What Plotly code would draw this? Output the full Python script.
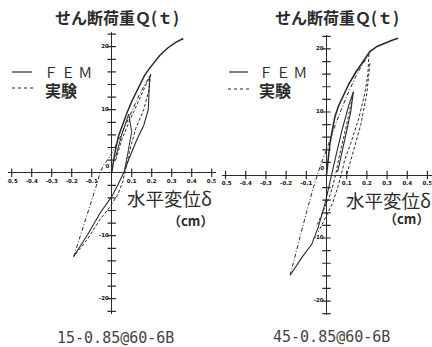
import plotly.graph_objects as go

# ---------------- data ----------------
x_ticks = [-0.5, -0.4, -0.3, -0.2, -0.1, 0.1, 0.2, 0.3, 0.4, 0.5]
x_tick_labels = ["-0.5", "-0.4", "-0.3", "-0.2", "-0.1", "0.1", "0.2", "0.3", "0.4", "0.5"]
y_ticks = [-22, -20, -18, -16, -14, -12, -10, -8, -6, -4, -2, 2, 4, 6, 8, 10, 12, 14, 16, 18, 20, 22]
y_label_vals = [20, 10, -10, -20]
y_label_text = ["20", "10", "-10", "-20"]

# left specimen 15-0.85@60-6B
L_skel_x = [0, 0.015, 0.033, 0.055, 0.075, 0.10, 0.125, 0.142, 0.165, 0.19, 0.21, 0.24, 0.28, 0.32, 0.358]
L_skel_y = [0, 3.0, 5.7, 7.8, 9.4, 11.3, 13.0, 14.2, 15.5, 16.6, 17.4, 18.6, 19.8, 20.7, 21.3]
L_loop_x = [0.19, 0.188, 0.183, 0.16, 0.125, 0.09, 0.06, 0.03, 0.0, -0.058, -0.12, -0.19]
L_loop_y = [15.3, 12.5, 10.0, 7.5, 5.2, 2.5, 0.0, -2.0, -3.8, -6.4, -9.8, -13.3]
L_inner_x = [0.02, 0.05, 0.085, 0.10, 0.08, 0.065]
L_inner_y = [2.5, 6.0, 9.3, 6.5, 3.0, 0.5]
L_expa_x = [-0.19, -0.16, -0.117, -0.08, -0.058, -0.04, -0.01, 0.04, 0.09, 0.14, 0.195]
L_expa_y = [-13.3, -10.4, -5.9, -2.4, 0.0, 1.2, 2.5, 5.5, 9.0, 12.5, 15.6]
L_expb_x = [0.195, 0.185, 0.16, 0.12, 0.09, 0.072, 0.055, 0.03, -0.01, -0.06, -0.12, -0.19]
L_expb_y = [15.6, 13.0, 10.0, 7.0, 3.5, 0.8, -1.5, -3.5, -5.5, -7.5, -10.5, -13.3]
L_expc_x = [0.02, 0.05, 0.09, 0.13, 0.17, 0.195]
L_expc_y = [2.0, 5.2, 8.3, 11.0, 13.7, 15.6]

# right specimen 45-0.85@60-6B
R_skel_x = [0, 0.005, 0.017, 0.03, 0.042, 0.06, 0.083, 0.11, 0.141, 0.175, 0.215, 0.25, 0.29, 0.325, 0.355]
R_skel_y = [0, 1.5, 5.0, 7.3, 9.3, 11.0, 12.7, 14.4, 16.1, 17.8, 19.6, 20.4, 21.0, 21.4, 21.7]
R_loop_x = [-0.18, -0.12, -0.073, -0.04, -0.007, 0.026, 0.05, 0.08, 0.11, 0.133, 0.12, 0.10, 0.075, 0.055]
R_loop_y = [-15.9, -13.0, -11.0, -8.2, -4.5, 0.3, 3.5, 7.5, 11.0, 13.2, 10.0, 7.0, 3.5, 0.5]
R_expa_x = [-0.18, -0.14, -0.10, -0.065, -0.049, -0.03, 0.0, 0.05, 0.10, 0.15, 0.21]
R_expa_y = [-15.9, -10.8, -6.0, -2.0, -0.3, 1.5, 4.0, 8.5, 12.5, 16.0, 19.2]
R_expb_x = [0.21, 0.205, 0.19, 0.16, 0.12, 0.09, 0.075, 0.06, 0.03, 0.0, -0.04]
R_expb_y = [19.2, 16.0, 13.0, 9.0, 5.0, 2.4, 0.3, -1.5, -4.5, -6.4, -9.0]
R_expc_x = [0.215, 0.20, 0.17, 0.13, 0.10]
R_expc_y = [17.7, 13.0, 8.0, 3.5, 0.0]
R_expd_x = [0.133, 0.10, 0.06, 0.045, 0.02, -0.05]
R_expd_y = [13.2, 8.0, 2.5, 0.0, -3.0, -8.2]

INK = "#2b2b2b"
fig = go.Figure()


def add_panel(xa, ya, curves):
    for cx, cy, width, dash in curves:
        fig.add_trace(go.Scatter(x=cx, y=cy, mode="lines", xaxis=xa, yaxis=ya,
                                 line=dict(color=INK, width=width, dash=dash),
                                 showlegend=False, hoverinfo="skip"))
    # tick marks
    fig.add_trace(go.Scatter(x=x_ticks, y=[0] * len(x_ticks), mode="markers", xaxis=xa, yaxis=ya,
                             marker=dict(symbol="line-ns-open", size=6, color=INK,
                                         line=dict(color=INK, width=1.2)),
                             showlegend=False, hoverinfo="skip"))
    fig.add_trace(go.Scatter(x=[0] * len(y_ticks), y=y_ticks, mode="markers", xaxis=xa, yaxis=ya,
                             marker=dict(symbol="line-ew-open", size=6, color=INK,
                                         line=dict(color=INK, width=1.2)),
                             showlegend=False, hoverinfo="skip"))
    fig.add_trace(go.Scatter(x=x_ticks, y=[-1.35] * len(x_ticks), mode="text", xaxis=xa, yaxis=ya,
                             text=x_tick_labels, textposition="middle center",
                             textfont=dict(family="DejaVu Sans", size=5.5, color="#111", weight="bold"),
                             showlegend=False, hoverinfo="skip"))
    fig.add_trace(go.Scatter(x=[-0.014] * len(y_label_vals), y=y_label_vals, mode="text", xaxis=xa, yaxis=ya,
                             text=y_label_text, textposition="middle left",
                             textfont=dict(family="DejaVu Sans", size=5.5, color="#111", weight="bold"),
                             showlegend=False, hoverinfo="skip"))
    fig.add_trace(go.Scatter(x=[-0.012], y=[1.0], mode="text", xaxis=xa, yaxis=ya,
                             text=["0"], textposition="middle left",
                             textfont=dict(family="DejaVu Sans", size=5.5, color="#111", weight="bold"),
                             showlegend=False, hoverinfo="skip"))


add_panel("x", "y", [
    (L_skel_x, L_skel_y, 1.5, "solid"),
    (L_loop_x, L_loop_y, 1.1, "solid"),
    (L_inner_x, L_inner_y, 1.0, "solid"),
    (L_expa_x, L_expa_y, 1.0, "4px,2px,1px,2px"),
    (L_expb_x, L_expb_y, 1.0, "3px,2px"),
    (L_expc_x, L_expc_y, 1.0, "3px,2px"),
])
add_panel("x2", "y2", [
    (R_skel_x, R_skel_y, 1.6, "solid"),
    (R_loop_x, R_loop_y, 1.1, "solid"),
    (R_expa_x, R_expa_y, 1.0, "4px,2px,1px,2px"),
    (R_expb_x, R_expb_y, 1.0, "3px,2px"),
    (R_expc_x, R_expc_y, 1.0, "3px,2px"),
    (R_expd_x, R_expd_y, 1.0, "3px,2px"),
])

ax_common = dict(showgrid=False, showticklabels=False, ticks="", showline=False,
                 zeroline=True, zerolinecolor=INK, zerolinewidth=1.2, fixedrange=True)
W, H = 432, 347
fig.update_layout(
    width=W, height=H, margin=dict(l=0, r=0, t=0, b=0),
    paper_bgcolor="white", plot_bgcolor="white",
    xaxis=dict(domain=[7.7 / W, 215.7 / W], range=[-0.52, 0.52], anchor="y", **ax_common),
    yaxis=dict(domain=[1 - 313.8 / H, 1 - 31.6 / H], range=[-22.4, 22.4], anchor="x", **ax_common),
    xaxis2=dict(domain=[221.5 / W, 431.5 / W], range=[-0.52, 0.52], anchor="y2", **ax_common),
    yaxis2=dict(domain=[1 - 314.9 / H, 1 - 35.1 / H], range=[-22.2, 22.2], anchor="x2", **ax_common),
)

JP = "Noto Sans CJK JP"


def ann(px, py, text, size, family=JP, color=INK, weight="normal", xanchor="center"):
    fig.add_annotation(x=px / W, y=1 - py / H, xref="paper", yref="paper", text=text, showarrow=False,
                       xanchor=xanchor, yanchor="middle",
                       font=dict(family=family, size=size, color=color, weight=weight))


# titles
ann(117, 17, "せん断荷重Ｑ(ｔ)", 16, weight="bold")
ann(337, 17, "せん断荷重Ｑ(ｔ)", 16, weight="bold")
# legends
ann(42, 72, "Ｆ Ｅ Ｍ", 14, xanchor="left")
ann(43, 90, "実験", 16, weight="bold", xanchor="left")
ann(257, 72, "Ｆ Ｅ Ｍ", 14, xanchor="left")
ann(257, 90, "実験", 16, weight="bold", xanchor="left")
for x0, x1, y0, dash in [(12, 32, 72, "solid"), (12, 33, 88, "dot"), (229, 248, 72, "solid"), (228, 249, 89, "dot")]:
    fig.add_shape(type="line", xref="paper", yref="paper", x0=x0 / W, x1=x1 / W, y0=1 - y0 / H, y1=1 - y0 / H,
                  line=dict(color=INK, width=1.2, dash=dash))
# axis titles
ann(125, 198, "水平変位δ", 18.5, xanchor="left")
ann(190, 220, "（cm）", 13, weight="bold")
ann(344, 200, "水平変位δ", 18.5, xanchor="left")
ann(406, 218, "（cm）", 13, weight="bold")
# specimen labels
ann(115, 338, "15-0.85@60-6B", 15, family="DejaVu Sans Mono", color="#444")
ann(331, 337, "45-0.85@60-6B", 15, family="DejaVu Sans Mono", color="#444")

fig.write_html("out.html", config={"displayModeBar": False},
               post_script="document.body.style.margin='0';document.body.style.overflow='hidden';")
